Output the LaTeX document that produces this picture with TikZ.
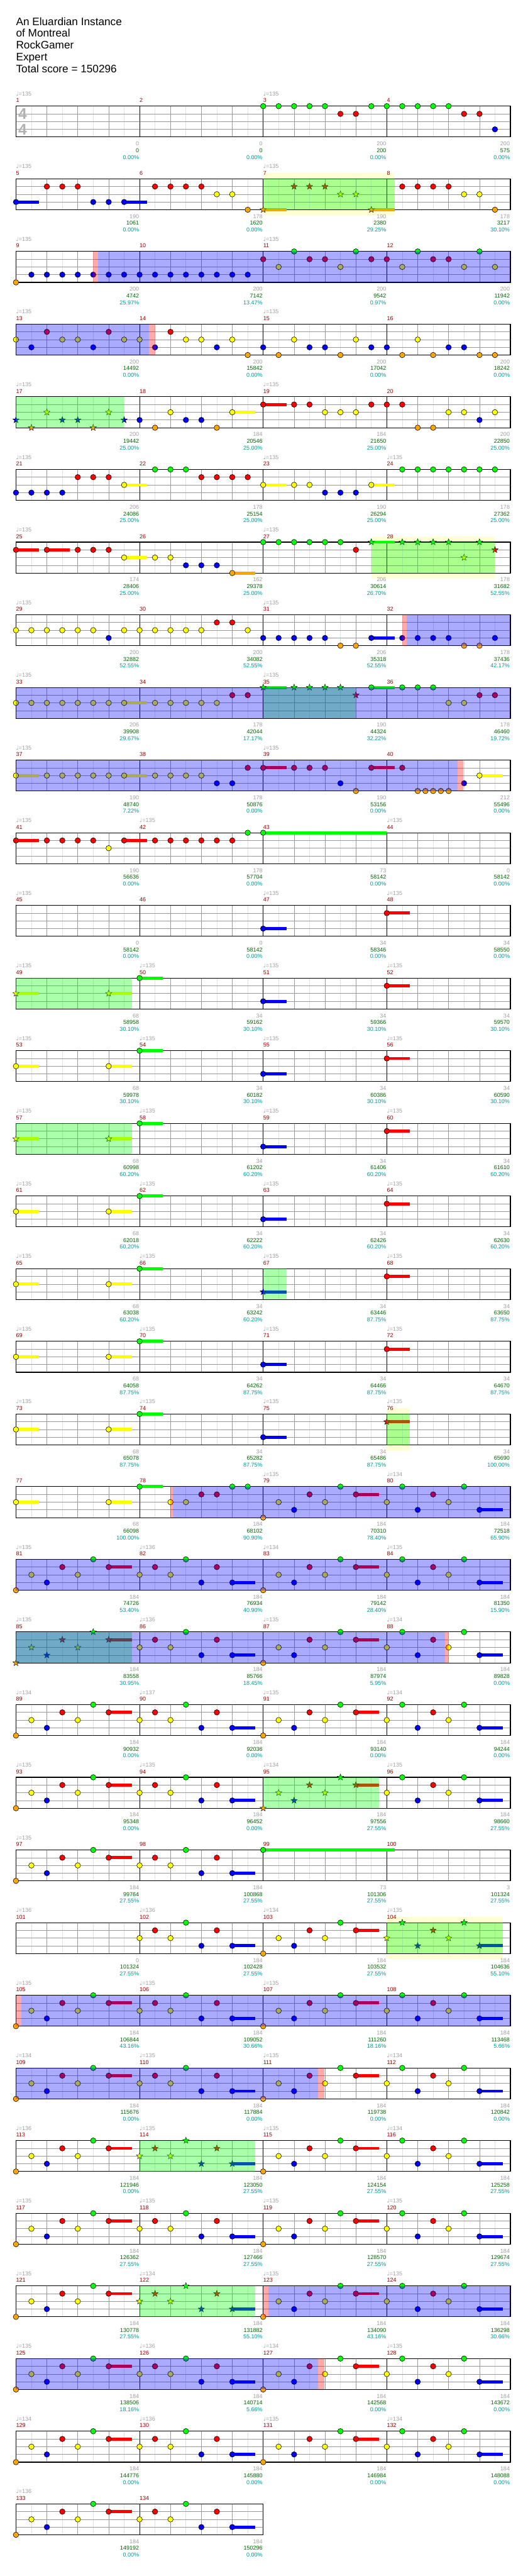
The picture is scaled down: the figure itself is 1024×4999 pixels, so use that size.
\documentclass[tikz,border=0pt]{standalone}
\usepackage{fontspec}
\setmainfont{Liberation Sans}
\newfontfamily\notefont{DejaVu Sans}
\usetikzlibrary{shapes.geometric}

\definecolor{lane0}{RGB}{0,255,0}
\definecolor{lane1}{RGB}{255,0,0}
\definecolor{lane2}{RGB}{255,255,0}
\definecolor{lane3}{RGB}{0,0,255}
\definecolor{lane4}{RGB}{255,165,0}
\definecolor{numred}{RGB}{153,0,0}
\definecolor{basegray}{RGB}{160,160,160}
\definecolor{scoregreen}{RGB}{0,102,0}
\definecolor{pctteal}{RGB}{0,153,153}
\definecolor{phrase}{RGB}{255,255,212}

% staff with #1 measures
\newcommand{\staff}[1]{%
  \pgfmathtruncatemacro\nbeats{4*#1}%
  \pgfmathtruncatemacro\swidth{240*#1}%
  \foreach \i in {1,...,\nbeats} \draw[offbeat] ({60*\i-30},0) -- ++(0,60);
  \foreach \i in {1,...,\nbeats} \draw[beat] ({60*\i},0) -- ++(0,60);
  \foreach \i in {1,2,3} \draw[beat] (0,{15*\i}) -- (\swidth,{15*\i});
  \foreach \i in {1,...,#1} \draw[barline] ({240*\i},0) -- ++(0,60);
  \draw[frame] (0,0) rectangle (\swidth,60);}
% gems: shape, offset, list of eighth/lane
\newcommand{\gems}[3]{\foreach \e/\l in {#3} \node[#1, fill=lane\l] at ({30*(#2+\e)},{15*\l}) {};}
% sustains: offset, list of eighth/lane/length
\newcommand{\holds}[2]{\foreach \e/\l/\hl in {#2} \fill[lane\l] ({30*(#1+\e)},{15*\l-3}) rectangle ++({30*\hl},6);}
% overlays
\newcommand{\starzone}[2]{\fill[lane0, opacity=0.333] ({30*#1},0) rectangle ({30*#2},60);}
\newcommand{\odzone}[2]{\fill[lane3, opacity=0.333] ({30*#1},0) rectangle ({30*#2},60);}
\newcommand{\fadezone}[2]{\fill[lane1, opacity=0.333] ({30*#1},0) rectangle ({30*#2},60);}
\newcommand{\phrasebg}[2]{\fill[phrase] ({30*#1},-11) rectangle ({30*#2},71);}
% measure labels: column, number, tempo, base, score, percent
\newcommand{\meas}[6]{%
  \node[mnum] (m#2) at ({240*#1},-11) {#2};
  \ifx\relax#3\relax\else\node[tempo] (t#2) at ({240*#1},-24) {{\notefont ♩}=#3};\fi
  \node[base] (b#2) at ({240*#1+239},73) {#4};
  \node[score] (s#2) at ({240*#1+239},86) {#5};
  \node[pct] (p#2) at ({240*#1+239},99) {#6\%};}
% repeated measures
\newcommand{\mP}[2]{\holds{#2}{6/1/1.5}\gems{#1}{#2}{0/4,1/2,2/3,3/1,4/2,5/0,6/1}}
\newcommand{\mQ}[2]{\holds{#2}{6/3/1.5}\gems{#1}{#2}{0/2,1/1,2/2,3/0,4/3,5/1,6/3}}
\newcommand{\mR}[2]{\holds{#2}{6/3/1.5}\gems{#1}{#2}{0/2,1/0,2/3,3/1,4/2,5/0,6/3}}
\newcommand{\slowrow}[1]{%
  \holds{0}{0/2/1.5,6/2/1.5,8/0/1.5,16/3/1.5,24/1/1.5}%
  \gems{gem}{0}{8/0,16/3,24/1}\gems{#1}{0}{0/2,6/2}}

\begin{document}
\begin{tikzpicture}[
        x=1pt, y=-1pt,
        gem/.style={circle, draw=black, line width=0.7pt, inner sep=0pt, minimum size=10.6pt},
        stargem/.style={star, star points=5, star point ratio=2.4, draw=black, line width=0.5pt, inner sep=0pt, minimum size=13pt},
        offbeat/.style={draw=black!12, line width=0.8pt},
        beat/.style={draw=black!40, line width=0.8pt},
        barline/.style={draw=black, line width=0.8pt},
        frame/.style={draw=black, line width=1.3pt},
        mnum/.style={anchor=west, inner sep=0pt, text=numred, font=\fontsize{11}{13}\selectfont},
        tempo/.style={anchor=west, inner sep=0pt, text=basegray, font=\fontsize{11}{13}\selectfont},
        base/.style={anchor=east, inner sep=0pt, text=basegray, font=\fontsize{11}{13}\selectfont},
        score/.style={anchor=east, inner sep=0pt, text=scoregreen, font=\fontsize{11}{13}\selectfont},
        pct/.style={anchor=east, inner sep=0pt, text=pctteal, font=\fontsize{11}{13}\selectfont},
        title/.style={anchor=base west, inner sep=0pt, font=\fontsize{21}{23}\selectfont},
        timesig/.style={inner sep=0pt, text=black!30, font=\bfseries\fontsize{30}{30}\selectfont}
    ]
    \fill[white] (0,0) rectangle (1024,4999);
    \useasboundingbox (0,0) rectangle (1024,4999);

    % Title
    \foreach \t [count=\i] in {An Eluardian Instance, of Montreal, RockGamer, Expert, Total score = 150296}
        \node[title] (title\i) at (31,{26+23*\i}) {\t};

    % Row 1: measures 1-4
    \begin{scope}[shift={(31,206)}]
        \staff{4}
        \node[timesig] (sigtop) at (13,15) {4};
        \node[timesig] (sigbot) at (13,45) {4};
        \gems{gem}{0}{16/0,17/0,18/0,19/0,20/0,21/1,22/1,23/0,24/0,25/0,26/0,27/0,28/0,29/1,30/1,31/3}
        \meas{0}{1}{135}{0}{0}{0.00}
        \meas{1}{2}{}{0}{0}{0.00}
        \meas{2}{3}{135}{200}{200}{0.00}
        \meas{3}{4}{}{200}{575}{0.00}
    \end{scope}

    % Row 2: measures 5-8
    \begin{scope}[shift={(31,347)}]
        \phrasebg{16}{24.5}
        \staff{4}
        \holds{0}{0/3/1.5,7/3/1.5,16/4/1.5,23/4/1.5}
        \gems{gem}{0}{0/3,2/1,3/1,4/1,5/3,6/3,7/3,9/1,10/1,11/1,12/1,13/2,14/2,15/4,25/1,26/1,27/1,28/1,29/2,30/2,31/4}
        \gems{stargem}{0}{16/4,18/1,19/1,20/1,21/2,22/2,23/4}
        \starzone{16}{24.5}
        \meas{0}{5}{135}{190}{1061}{0.00}
        \meas{1}{6}{}{178}{1620}{0.00}
        \meas{2}{7}{135}{190}{2380}{29.25}
        \meas{3}{8}{}{178}{3217}{30.10}
    \end{scope}

    % Row 3: measures 9-12
    \begin{scope}[shift={(31,488)}]
        \staff{4}
        \gems{gem}{0}{0/4,1/3,2/3,3/3,4/3,5/3,6/3,7/3,8/3,9/3,10/3,11/3,12/3,13/3,14/3,15/3,16/1,17/2,18/0,19/1,20/1,21/2,22/0,23/1,24/1,25/2,26/0,27/1,28/1,29/2,30/0,31/2}
        \fadezone{5}{5.3}
        \odzone{5.3}{32}
        \meas{0}{9}{135}{200}{4742}{25.97}
        \meas{1}{10}{}{200}{7142}{13.47}
        \meas{2}{11}{135}{200}{9542}{0.97}
        \meas{3}{12}{}{200}{11942}{0.00}
    \end{scope}

    % Row 4: measures 13-16
    \begin{scope}[shift={(31,629)}]
        \staff{4}
        \gems{gem}{0}{0/2,1/3,2/1,3/2,4/2,5/3,6/1,7/2,8/2,9/3,10/1,11/2,12/2,13/3,14/2,15/4,16/3,17/4,18/2,19/3,20/3,21/4,22/2,23/3,24/3,25/4,26/2,27/4,28/3,29/3,30/4,31/4}
        \odzone{0}{8.6}
        \fadezone{8.6}{9}
        \meas{0}{13}{135}{200}{14492}{0.00}
        \meas{1}{14}{}{200}{15842}{0.00}
        \meas{2}{15}{135}{200}{17042}{0.00}
        \meas{3}{16}{}{200}{18242}{0.00}
    \end{scope}

    % Row 5: measures 17-20
    \begin{scope}[shift={(31,770)}]
        \staff{4}
        \holds{0}{14/2/1.5,16/1/1.5}
        \gems{stargem}{0}{0/3,1/4,2/2,3/3,4/3,5/4,6/2,7/3}
        \gems{gem}{0}{8/3,9/4,10/2,11/3,12/3,13/4,14/2,16/1,18/1,19/1,20/2,21/2,22/2,23/1,24/1,25/1,26/4,27/4,28/2,29/2,30/3,31/2}
        \starzone{0}{7}
        \meas{0}{17}{135}{200}{19442}{25.00}
        \meas{1}{18}{}{184}{20546}{25.00}
        \meas{2}{19}{135}{184}{21650}{25.00}
        \meas{3}{20}{}{200}{22850}{25.00}
    \end{scope}

    % Row 6: measures 21-24
    \begin{scope}[shift={(31,911)}]
        \staff{4}
        \holds{0}{7/2/1.5,16/2/1.5,23/2/1.5}
        \gems{gem}{0}{0/3,1/3,2/3,3/3,4/1,5/1,6/1,7/2,9/0,10/0,11/0,12/1,13/1,14/1,15/1,16/2,18/2,19/2,20/3,21/3,22/3,23/2,25/0,26/0,27/0,28/0,29/0,30/0,31/0}
        \meas{0}{21}{135}{206}{24086}{25.00}
        \meas{1}{22}{}{178}{25154}{25.00}
        \meas{2}{23}{135}{190}{26294}{25.00}
        \meas{3}{24}{135}{178}{27362}{25.00}
    \end{scope}

    % Row 7: measures 25-28
    \begin{scope}[shift={(31,1052)}]
        \phrasebg{23}{31}
        \staff{4}
        \holds{0}{0/1/1.5,2/1/1.5,7/2/1.5,14/4/1.5,23/0/1.5}
        \gems{gem}{0}{0/1,2/1,4/1,5/1,6/1,7/2,9/2,10/2,11/3,12/3,13/3,14/4,16/0,17/0,18/0,19/0,20/0,21/0,22/1}
        \gems{stargem}{0}{23/0,25/0,26/0,27/0,28/0,29/2,30/0,31/1}
        \starzone{23}{31}
        \meas{0}{25}{135}{174}{28406}{25.00}
        \meas{1}{26}{}{162}{29378}{25.00}
        \meas{2}{27}{135}{206}{30614}{26.70}
        \meas{3}{28}{}{178}{31682}{52.55}
    \end{scope}

    % Row 8: measures 29-32
    \begin{scope}[shift={(31,1193)}]
        \staff{4}
        \holds{0}{23/3/1.5}
        \gems{gem}{0}{0/2,1/2,2/2,3/2,4/2,5/2,6/3,7/2,8/2,9/2,10/2,11/2,12/2,13/1,14/1,15/2,16/3,17/3,18/3,19/3,20/3,21/4,22/4,23/3,25/3,26/3,27/3,28/3,29/4,30/4,31/3}
        \fadezone{25}{25.3}
        \odzone{25.3}{32}
        \meas{0}{29}{135}{200}{32882}{52.55}
        \meas{1}{30}{}{200}{34082}{52.55}
        \meas{2}{31}{135}{206}{35318}{52.55}
        \meas{3}{32}{}{178}{37436}{42.17}
    \end{scope}

    % Row 9: measures 33-36
    \begin{scope}[shift={(31,1334)}]
        \staff{4}
        \holds{0}{7/2/1.5,16/0/1.5,23/0/1.5}
        \gems{gem}{0}{0/2,1/2,2/2,3/2,4/2,5/2,6/2,7/2,9/2,10/2,11/2,12/2,13/2,14/1,15/1,23/0,25/0,26/0,27/0,28/2,29/2,30/1,31/1}
        \gems{stargem}{0}{16/0,18/0,19/0,20/0,21/0,22/1}
        \starzone{16}{22}
        \odzone{0}{32}
        \meas{0}{33}{135}{206}{39908}{29.67}
        \meas{1}{34}{}{178}{42044}{17.17}
        \meas{2}{35}{135}{190}{44324}{32.22}
        \meas{3}{36}{}{178}{46460}{19.72}
    \end{scope}

    % Row 10: measures 37-40
    \begin{scope}[shift={(31,1475)}]
        \staff{4}
        \holds{0}{0/2/1.5,7/2/1.5,16/1/1.5,23/1/1.5,30/2/1.5}
        \gems{gem}{0}{0/2,2/2,3/2,4/2,5/2,6/2,7/2,9/2,10/2,11/2,12/2,13/3,14/3,15/1,16/1,18/1,19/1,20/1,21/3,22/4,23/1,25/1,26/4,26.5/4,27/4,27.5/4,28/4,29/3,30/2}
        \odzone{0}{28.57}
        \fadezone{28.57}{28.96}
        \meas{0}{37}{135}{190}{48740}{7.22}
        \meas{1}{38}{}{178}{50876}{0.00}
        \meas{2}{39}{135}{190}{53156}{0.00}
        \meas{3}{40}{}{212}{55496}{0.00}
    \end{scope}

    % Row 11: measures 41-44
    \begin{scope}[shift={(31,1616)}]
        \staff{4}
        \holds{0}{0/1/1.5,7/1/1.5,16/0/8}
        \gems{gem}{0}{0/1,2/1,3/1,4/1,5/1,6/2,7/1,9/1,10/1,11/1,12/1,13/1,14/1,15/0,16/0}
        \meas{0}{41}{135}{190}{56636}{0.00}
        \meas{1}{42}{135}{178}{57704}{0.00}
        \meas{2}{43}{}{73}{58142}{0.00}
        \meas{3}{44}{135}{0}{58142}{0.00}
    \end{scope}

    % Row 12: measures 45-48
    \begin{scope}[shift={(31,1757)}]
        \staff{4}
        \holds{0}{16/3/1.5,24/1/1.5}
        \gems{gem}{0}{16/3,24/1}
        \meas{0}{45}{135}{0}{58142}{0.00}
        \meas{1}{46}{}{0}{58142}{0.00}
        \meas{2}{47}{135}{34}{58346}{0.00}
        \meas{3}{48}{135}{34}{58550}{0.00}
    \end{scope}

    % Row 13: measures 49-52
    \begin{scope}[shift={(31,1898)}]
        \staff{4}
        \slowrow{stargem}
        \starzone{0}{7.5}
        \meas{0}{49}{135}{68}{58958}{30.10}
        \meas{1}{50}{135}{34}{59162}{30.10}
        \meas{2}{51}{135}{34}{59366}{30.10}
        \meas{3}{52}{135}{34}{59570}{30.10}
    \end{scope}

    % Row 14: measures 53-56
    \begin{scope}[shift={(31,2039)}]
        \staff{4}
        \slowrow{gem}
        \meas{0}{53}{135}{68}{59978}{30.10}
        \meas{1}{54}{135}{34}{60182}{30.10}
        \meas{2}{55}{135}{34}{60386}{30.10}
        \meas{3}{56}{135}{34}{60590}{30.10}
    \end{scope}

    % Row 15: measures 57-60
    \begin{scope}[shift={(31,2180)}]
        \staff{4}
        \slowrow{stargem}
        \starzone{0}{7.5}
        \meas{0}{57}{135}{68}{60998}{60.20}
        \meas{1}{58}{135}{34}{61202}{60.20}
        \meas{2}{59}{135}{34}{61406}{60.20}
        \meas{3}{60}{135}{34}{61610}{60.20}
    \end{scope}

    % Row 16: measures 61-64
    \begin{scope}[shift={(31,2321)}]
        \staff{4}
        \slowrow{gem}
        \meas{0}{61}{135}{68}{62018}{60.20}
        \meas{1}{62}{135}{34}{62222}{60.20}
        \meas{2}{63}{135}{34}{62426}{60.20}
        \meas{3}{64}{135}{34}{62630}{60.20}
    \end{scope}

    % Row 17: measures 65-68
    \begin{scope}[shift={(31,2462)}]
        \staff{4}
        \holds{0}{0/2/1.5,6/2/1.5,8/0/1.5,16/3/1.5,24/1/1.5}
        \gems{gem}{0}{0/2,6/2,8/0,24/1}
        \gems{stargem}{0}{16/3}
        \starzone{16}{17.5}
        \meas{0}{65}{135}{68}{63038}{60.20}
        \meas{1}{66}{135}{34}{63242}{60.20}
        \meas{2}{67}{135}{34}{63446}{87.75}
        \meas{3}{68}{135}{34}{63650}{87.75}
    \end{scope}

    % Row 18: measures 69-72
    \begin{scope}[shift={(31,2603)}]
        \staff{4}
        \slowrow{gem}
        \meas{0}{69}{135}{68}{64058}{87.75}
        \meas{1}{70}{135}{34}{64262}{87.75}
        \meas{2}{71}{135}{34}{64466}{87.75}
        \meas{3}{72}{135}{34}{64670}{87.75}
    \end{scope}

    % Row 19: measures 73-76
    \begin{scope}[shift={(31,2744)}]
        \phrasebg{24}{25.5}
        \staff{4}
        \holds{0}{0/2/1.5,6/2/1.5,8/0/1.5,16/3/1.5,24/1/1.5}
        \gems{gem}{0}{0/2,6/2,8/0,16/3}
        \gems{stargem}{0}{24/1}
        \starzone{24}{25.5}
        \meas{0}{73}{135}{68}{65078}{87.75}
        \meas{1}{74}{135}{34}{65282}{87.75}
        \meas{2}{75}{135}{34}{65486}{87.75}
        \meas{3}{76}{135}{34}{65690}{100.00}
    \end{scope}

    % Row 20: measures 77-80
    \begin{scope}[shift={(31,2885)}]
        \staff{4}
        \holds{0}{0/2/1.5,6/2/1.5,8/0/1.5,22/1/1.5,30/3/1.5}
        \gems{gem}{0}{0/2,6/2,8/0,10/2,11/2,12/1,13/1,14/0,15/0,16/4,17/2,18/3,19/1,20/2,21/0,22/1,24/2,25/0,26/3,27/1,28/2,29/0,30/3}
        \fadezone{10}{10.15}
        \odzone{10.15}{32}
        \meas{0}{77}{}{68}{66098}{100.00}
        \meas{1}{78}{}{184}{68102}{90.90}
        \meas{2}{79}{135}{184}{70310}{78.40}
        \meas{3}{80}{134}{184}{72518}{65.90}
    \end{scope}

    % Row 21: measures 81-84
    \begin{scope}[shift={(31,3026)}]
        \staff{4}
        \mP{gem}{0} \mQ{gem}{8} \mP{gem}{16} \mR{gem}{24}
        \odzone{0}{32}
        \meas{0}{81}{135}{184}{74726}{53.40}
        \meas{1}{82}{136}{184}{76934}{40.90}
        \meas{2}{83}{134}{184}{79142}{28.40}
        \meas{3}{84}{135}{184}{81350}{15.90}
    \end{scope}

    % Row 22: measures 85-88
    \begin{scope}[shift={(31,3167)}]
        \staff{4}
        \mP{stargem}{0} \mQ{gem}{8} \mP{gem}{16} \mR{gem}{24}
        \starzone{0}{7.5}
        \odzone{0}{27.78}
        \fadezone{27.78}{27.96}
        \meas{0}{85}{135}{184}{83558}{30.95}
        \meas{1}{86}{136}{184}{85766}{18.45}
        \meas{2}{87}{135}{184}{87974}{5.95}
        \meas{3}{88}{134}{184}{89828}{0.00}
    \end{scope}

    % Row 23: measures 89-92
    \begin{scope}[shift={(31,3308)}]
        \staff{4}
        \mP{gem}{0} \mQ{gem}{8} \mP{gem}{16} \mR{gem}{24}
        \meas{0}{89}{134}{184}{90932}{0.00}
        \meas{1}{90}{137}{184}{92036}{0.00}
        \meas{2}{91}{135}{184}{93140}{0.00}
        \meas{3}{92}{134}{184}{94244}{0.00}
    \end{scope}

    % Row 24: measures 93-96
    \begin{scope}[shift={(31,3449)}]
        \staff{4}
        \mP{gem}{0} \mQ{gem}{8} \mP{stargem}{16} \mR{gem}{24}
        \starzone{16}{23.5}
        \meas{0}{93}{135}{184}{95348}{0.00}
        \meas{1}{94}{135}{184}{96452}{0.00}
        \meas{2}{95}{134}{184}{97556}{27.55}
        \meas{3}{96}{135}{184}{98660}{27.55}
    \end{scope}

    % Row 25: measures 97-100
    \begin{scope}[shift={(31,3590)}]
        \staff{4}
        \mP{gem}{0} \mQ{gem}{8}
        \holds{0}{16/0/8.5}
        \gems{gem}{0}{16/0}
        \meas{0}{97}{135}{184}{99764}{27.55}
        \meas{1}{98}{}{184}{100868}{27.55}
        \meas{2}{99}{}{73}{101306}{27.55}
        \meas{3}{100}{}{3}{101324}{27.55}
    \end{scope}

    % Row 26: measures 101-104
    \begin{scope}[shift={(31,3731)}]
        \phrasebg{24}{31.5}
        \staff{4}
        \mQ{gem}{8} \mP{gem}{16} \mR{stargem}{24}
        \starzone{24}{31.5}
        \meas{0}{101}{136}{0}{101324}{27.55}
        \meas{1}{102}{136}{184}{102428}{27.55}
        \meas{2}{103}{134}{184}{103532}{27.55}
        \meas{3}{104}{135}{184}{104636}{55.10}
    \end{scope}

    % Row 27: measures 105-108
    \begin{scope}[shift={(31,3872)}]
        \staff{4}
        \mP{gem}{0} \mQ{gem}{8} \mP{gem}{16} \mR{gem}{24}
        \fadezone{0}{0.33}
        \odzone{0.33}{32}
        \meas{0}{105}{135}{184}{106844}{43.16}
        \meas{1}{106}{135}{184}{109052}{30.66}
        \meas{2}{107}{135}{184}{111260}{18.16}
        \meas{3}{108}{}{184}{113468}{5.66}
    \end{scope}

    % Row 28: measures 109-112
    \begin{scope}[shift={(31,4013)}]
        \staff{4}
        \mP{gem}{0} \mQ{gem}{8} \mP{gem}{16} \mR{gem}{24}
        \odzone{0}{19.57}
        \fadezone{19.57}{19.96}
        \meas{0}{109}{134}{184}{115676}{0.00}
        \meas{1}{110}{135}{184}{117884}{0.00}
        \meas{2}{111}{135}{184}{119738}{0.00}
        \meas{3}{112}{134}{184}{120842}{0.00}
    \end{scope}

    % Row 29: measures 113-116
    \begin{scope}[shift={(31,4154)}]
        \staff{4}
        \mP{gem}{0} \mQ{stargem}{8} \mP{gem}{16} \mR{gem}{24}
        \starzone{8}{15.5}
        \meas{0}{113}{136}{184}{121946}{0.00}
        \meas{1}{114}{135}{184}{123050}{27.55}
        \meas{2}{115}{135}{184}{124154}{27.55}
        \meas{3}{116}{134}{184}{125258}{27.55}
    \end{scope}

    % Row 30: measures 117-120
    \begin{scope}[shift={(31,4295)}]
        \staff{4}
        \mP{gem}{0} \mQ{gem}{8} \mP{gem}{16} \mR{gem}{24}
        \meas{0}{117}{135}{184}{126362}{27.55}
        \meas{1}{118}{135}{184}{127466}{27.55}
        \meas{2}{119}{135}{184}{128570}{27.55}
        \meas{3}{120}{135}{184}{129674}{27.55}
    \end{scope}

    % Row 31: measures 121-124
    \begin{scope}[shift={(31,4436)}]
        \staff{4}
        \mP{gem}{0} \mQ{stargem}{8} \mP{gem}{16} \mR{gem}{24}
        \starzone{8}{15.5}
        \fadezone{16}{16.33}
        \odzone{16.33}{32}
        \meas{0}{121}{135}{184}{130778}{27.55}
        \meas{1}{122}{134}{184}{131882}{55.10}
        \meas{2}{123}{135}{184}{134090}{43.16}
        \meas{3}{124}{135}{184}{136298}{30.66}
    \end{scope}

    % Row 32: measures 125-128
    \begin{scope}[shift={(31,4577)}]
        \staff{4}
        \mP{gem}{0} \mQ{gem}{8} \mP{gem}{16} \mR{gem}{24}
        \odzone{0}{19.57}
        \fadezone{19.57}{19.96}
        \meas{0}{125}{135}{184}{138506}{18.16}
        \meas{1}{126}{136}{184}{140714}{5.66}
        \meas{2}{127}{134}{184}{142568}{0.00}
        \meas{3}{128}{135}{184}{143672}{0.00}
    \end{scope}

    % Row 33: measures 129-132
    \begin{scope}[shift={(31,4718)}]
        \staff{4}
        \mP{gem}{0} \mQ{gem}{8} \mP{gem}{16} \mR{gem}{24}
        \meas{0}{129}{134}{184}{144776}{0.00}
        \meas{1}{130}{136}{184}{145880}{0.00}
        \meas{2}{131}{135}{184}{146984}{0.00}
        \meas{3}{132}{134}{184}{148088}{0.00}
    \end{scope}

    % Row 34: measures 133-134
    \begin{scope}[shift={(31,4859)}]
        \staff{2}
        \mP{gem}{0} \mQ{gem}{8}
        \meas{0}{133}{136}{184}{149192}{0.00}
        \meas{1}{134}{}{184}{150296}{0.00}
    \end{scope}
\end{tikzpicture}
\end{document}
